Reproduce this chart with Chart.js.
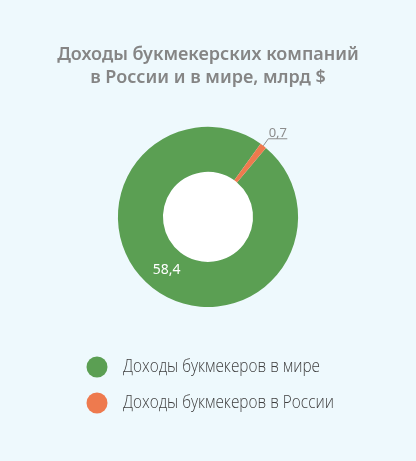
<!DOCTYPE html>
<html>
<head>
<meta charset="utf-8">
<script src="https://cdn.jsdelivr.net/npm/chart.js@4"></script>
<style>
  body { margin: 0; background: #eef9fd; }
  #DonutCanvas { display: block; }
</style>
</head>
<body>
<canvas id="DonutCanvas" width="416" height="461"></canvas>
<script>
var labels = ['Доходы букмекеров в мире', 'Доходы букмекеров в России'];
var values = [58.4, 0.7];
var valueLabels = ['58,4', '0,7'];
var colors = ['#5b9f53', '#ee7a4e'];
var titleLines = ['Доходы букмекерских компаний', 'в России и в мире, млрд $'];

// white hole in the middle of the ring
var holePlugin = {
    id: 'hole',
    beforeDatasetsDraw: function (chart) {
        var arc = chart.getDatasetMeta(0).data[0];
        var ctx = chart.ctx;
        ctx.save();
        ctx.fillStyle = '#ffffff';
        ctx.beginPath();
        ctx.arc(arc.x, arc.y, arc.innerRadius, 0, Math.PI * 2);
        ctx.fill();
        ctx.restore();
    }
};

// value labels: inside for the big slice, with a leader line for the small one
var valuePlugin = {
    id: 'values',
    afterDatasetsDraw: function (chart) {
        var ctx = chart.ctx;
        var arcs = chart.getDatasetMeta(0).data;
        ctx.save();
        ctx.font = '14px "Noto Sans", sans-serif';
        ctx.textAlign = 'center';
        ctx.textBaseline = 'middle';
        ctx.fillStyle = '#ffffff';
        var p = arcs[0].getCenterPoint();
        ctx.fillText(valueLabels[0], p.x, p.y);

        var a = arcs[1];
        var mid = (a.startAngle + a.endAngle) / 2;
        var x0 = a.x + Math.cos(mid) * a.outerRadius;
        var y0 = a.y + Math.sin(mid) * a.outerRadius;
        var x1 = x0 + 5, y1 = y0 - 7;
        ctx.strokeStyle = '#8c8c8c';
        ctx.lineWidth = 1;
        ctx.beginPath();
        ctx.moveTo(x0, y0);
        ctx.lineTo(x1, y1);
        ctx.lineTo(x1 + 19, y1);
        ctx.stroke();
        ctx.fillStyle = '#8c8c8c';
        ctx.font = '13px "Noto Sans", sans-serif';
        ctx.textBaseline = 'alphabetic';
        ctx.fillText(valueLabels[1], x1 + 9.5, y1 - 2);
        ctx.restore();
    }
};

// legend as a left-aligned column, condensed text
var legendPlugin = {
    id: 'columnLegend',
    afterDraw: function (chart) {
        var ctx = chart.ctx;
        ctx.save();
        ctx.font = '300 19px "Open Sans", sans-serif';
        ctx.textBaseline = 'middle';
        ctx.textAlign = 'left';
        var squeeze = 197 / ctx.measureText(labels[0]).width;
        labels.forEach(function (label, i) {
            var y = 367 + i * 36;
            ctx.fillStyle = colors[i];
            ctx.beginPath();
            ctx.arc(97, y, 10.5, 0, Math.PI * 2);
            ctx.fill();
            ctx.save();
            ctx.translate(123, y);
            ctx.scale(squeeze, 1);
            ctx.fillStyle = '#3f3f3f';
            ctx.fillText(label, 0, 0);
            ctx.restore();
        });
        ctx.restore();
    }
};

var ctx = document.getElementById('DonutCanvas').getContext('2d');
var chart = new Chart(ctx, {
    type: 'doughnut',
    data: {
        labels: labels,
        datasets: [{
            data: values,
            backgroundColor: colors,
            borderWidth: 0
        }]
    },
    options: {
        responsive: false,
        animation: false,
        cutout: '50%',
        rotation: 40,
        layout: {
            padding: { top: 0, bottom: 154, left: 0, right: 0 }
        },
        plugins: {
            legend: { display: false },
            tooltip: { enabled: false },
            title: {
                display: true,
                text: titleLines,
                color: '#858585',
                font: { family: '"Noto Sans", sans-serif', size: 18, weight: '600', lineHeight: 1.3 },
                padding: { top: 43, bottom: 37 }
            }
        }
    },
    plugins: [holePlugin, valuePlugin, legendPlugin]
});
</script>
</body>
</html>
